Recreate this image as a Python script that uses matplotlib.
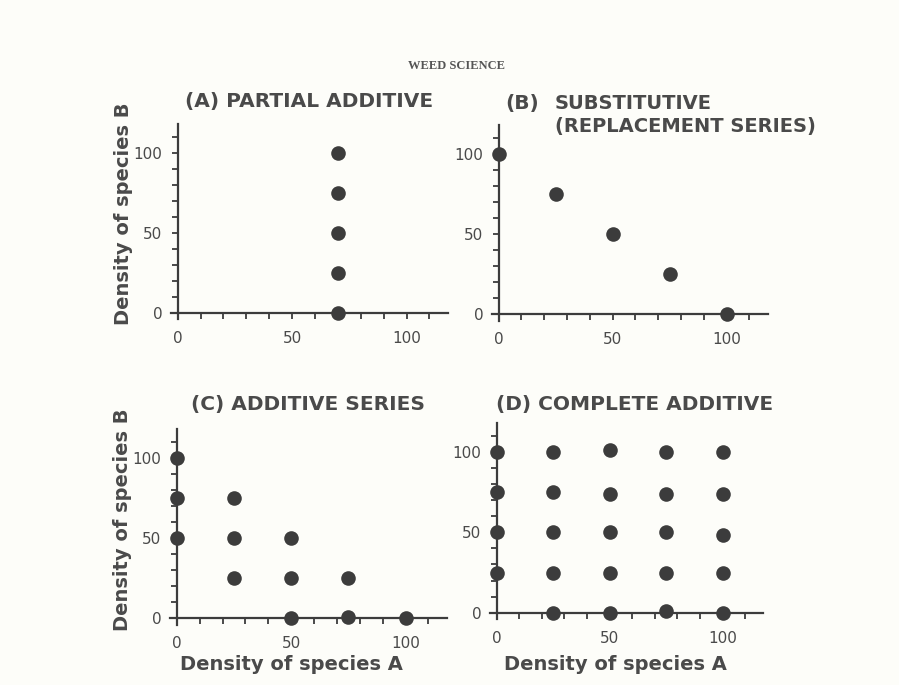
import numpy as np
import matplotlib.pyplot as plt
from matplotlib.ticker import MultipleLocator

# panel data: density of species A (x) and species B (y)
a_x = [70, 70, 70, 70, 70]
a_y = [100, 75, 50, 25, 0]

b_x = [0, 25, 50, 75, 100]
b_y = [100, 75, 50, 25, 0]

c_x = [0, 0, 0, 25, 25, 25, 50, 50, 50, 75, 75, 100]
c_y = [100, 75, 50, 75, 50, 25, 50, 25, 0, 25, 1, 0]

d_x = [0, 0, 0, 0,
       25, 25, 25, 25, 25,
       50, 50, 50, 50, 50,
       75, 75, 75, 75, 75,
       100, 100, 100, 100, 100]
d_y = [100, 75, 50, 25,
       100, 75, 50, 25, 0,
       101, 74, 50, 25, 0,
       100, 74, 50, 25, 1,
       100, 74, 48, 25, 0]

ink = '#3c3c3c'
text_col = '#4a4a4a'
bg = '#fdfdf9'

fig = plt.figure(figsize=(8.99, 6.85), dpi=100, facecolor=bg)

positions = {
    'A': [0.190, 0.534, 0.308, 0.285],
    'B': [0.547, 0.532, 0.307, 0.285],
    'C': [0.189, 0.088, 0.308, 0.285],
    'D': [0.545, 0.096, 0.304, 0.287],
}
data = {'A': (a_x, a_y), 'B': (b_x, b_y), 'C': (c_x, c_y), 'D': (d_x, d_y)}

axes = {}
for key in ['A', 'B', 'C', 'D']:
    ax = fig.add_axes(positions[key])
    ax.set_facecolor('none')
    x, y = data[key]
    ax.plot(x, y, 'o', color=ink, markersize=10.5, markeredgewidth=0, clip_on=False, zorder=3)
    ax.set_xlim(-3, 118)
    ax.set_ylim(-4, 118)
    for side in ['top', 'right']:
        ax.spines[side].set_visible(False)
    for side in ['left', 'bottom']:
        ax.spines[side].set_position(('data', 0))
        ax.spines[side].set_color(ink)
        ax.spines[side].set_linewidth(1.6)
    ax.xaxis.set_minor_locator(MultipleLocator(10))
    ax.yaxis.set_minor_locator(MultipleLocator(10))
    ax.set_xticks([0, 50, 100])
    ax.set_yticks([0, 50, 100])
    ax.tick_params(which='both', direction='out', length=4, width=1.3, color=ink,
                   labelsize=11, labelcolor=text_col)
    ax.tick_params(axis='x', which='major', pad=9)
    ax.tick_params(axis='y', which='major', pad=7)
    axes[key] = ax

title_kw = dict(fontsize=14.5, fontweight='bold', color=text_col)
axes['A'].set_title('(A) PARTIAL ADDITIVE', pad=12, **title_kw)
axes['C'].set_title('(C) ADDITIVE SERIES', pad=14, **title_kw)
axes['D'].set_title('(D) COMPLETE ADDITIVE', pad=9, x=0.53, **title_kw)
fig.text(505 / 899, 1 - 103 / 685, '(B)', ha='left', va='center', **title_kw)
fig.text(555 / 899, 1 - 115 / 685, 'SUBSTITUTIVE\n(REPLACEMENT SERIES)', ha='left', va='center',
         linespacing=1.3, fontsize=14, fontweight='bold', color=text_col)

label_kw = dict(fontsize=14, fontweight='bold', color=text_col)
for key in ['A', 'C']:
    axes[key].set_ylabel('Density of species B', **label_kw)
    axes[key].yaxis.set_label_coords(-0.136, 0.54)
for key in ['C', 'D']:
    axes[key].set_xlabel('Density of species A', **label_kw)
axes['C'].xaxis.set_label_coords(0.44, -0.155)
axes['D'].xaxis.set_label_coords(0.458, -0.18)

fig.text(457 / 899, 1 - 66 / 685, 'WEED SCIENCE', ha='center', va='center',
         fontsize=9, fontweight='bold', family='Liberation Serif', color='#555555')

plt.savefig('out.png', dpi=100, facecolor=bg)
